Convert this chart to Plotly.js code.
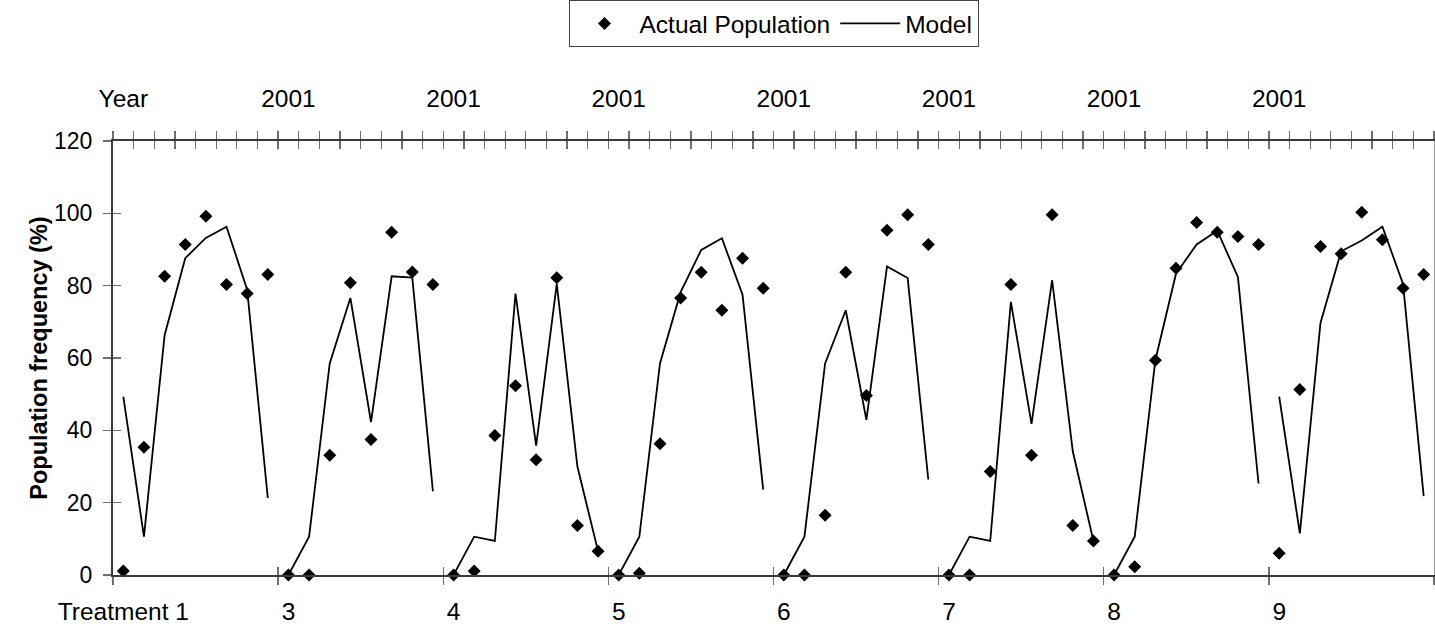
<!DOCTYPE html>
<html>
<head>
<meta charset="utf-8">
<script src="https://cdn.plot.ly/plotly-3.0.1.min.js"></script>
<style>html,body{margin:0;padding:0;background:#fff;}#chart{width:1435px;height:632px;}</style>
</head>
<body>
<div id="chart"></div>
<script>
// ---- data ----
var groupLabels = ["Treatment 1", "3", "4", "5", "6", "7", "8", "9"];
var yearLabels = ["Year", "2001", "2001", "2001", "2001", "2001", "2001", "2001"];
var pointsPerGroup = 8;

var actualPopulation = [
  1.1, 35.3, 82.6, 91.4, 99.2, 80.3, 77.8, 83.1,
  0, 0, 33.1, 80.8, 37.5, 94.8, 83.8, 80.3,
  0, 1.1, 38.6, 52.3, 31.9, 82.2, 13.7, 6.6,
  0, 0.5, 36.3, 76.6, 83.7, 73.2, 87.6, 79.3,
  0, 0, 16.5, 83.7, 49.6, 95.3, 99.6, 91.4,
  0, 0, 28.6, 80.3, 33.1, 99.6, 13.7, 9.4,
  0, 2.3, 59.4, 84.8, 97.5, 94.8, 93.6, 91.4,
  6.0, 51.3, 90.8, 88.8, 100.3, 92.7, 79.3, 83.1
];
var model = [
  49.3, 10.6, 66.3, 87.6, 93.2, 96.3, 78.9, 21.3,
  0, 10.6, 58.5, 76.6, 42.3, 82.6, 82.2, 23.1,
  0, 10.6, 9.4, 77.8, 35.8, 80.5, 30.0, 6.6,
  0, 10.6, 58.5, 78.2, 89.9, 93.1, 77.5, 23.6,
  0, 10.6, 58.5, 73.2, 42.9, 85.3, 82.1, 26.4,
  0, 10.6, 9.4, 75.5, 41.8, 81.5, 34.2, 9.4,
  0, 10.6, 59.4, 83.3, 91.4, 95.2, 82.4, 25.3,
  49.3, 11.5, 69.7, 89.5, 92.5, 96.3, 80.5, 21.8
];

// ---- build traces ----
var n = actualPopulation.length;
var nGroups = groupLabels.length;
var idx = actualPopulation.map(function (_, i) { return i; });

// model: break the line between groups
var mx = [], my = [];
for (var g = 0; g < nGroups; g++) {
  for (var k = 0; k < pointsPerGroup; k++) {
    var i = g * pointsPerGroup + k;
    mx.push(i); my.push(model[i]);
  }
  if (g < nGroups - 1) { mx.push(g * pointsPerGroup + pointsPerGroup - 0.5); my.push(null); }
}

var FONT = "Liberation Sans, Arial, Helvetica, sans-serif";
var FS = 24.5;

function dummy(xa, ya) {
  return {x: [0], y: [0], xaxis: xa, yaxis: ya, mode: "markers", marker: {opacity: 0},
          showlegend: false, hoverinfo: "skip"};
}

var traces = [
  {
    x: idx, y: actualPopulation, type: "scatter", mode: "markers",
    name: "Actual Population",
    marker: {symbol: "diamond", size: 10, color: "#000"},
    cliponaxis: false
  },
  {
    x: mx, y: my, type: "scatter", mode: "lines",
    name: "Model", connectgaps: false,
    line: {color: "#000", width: 1.8},
    cliponaxis: false
  },
  dummy("x2", "y2"), dummy("x3", "y3"), dummy("x4", "y"), dummy("x5", "y"), dummy("x6", "y")
];

var xr = [-0.5, n - 0.5];
var groupBounds = [], catBounds = [], labelPos = [];
for (var b = 0; b <= nGroups; b++) groupBounds.push(b * pointsPerGroup - 0.5);
for (var c = 0; c <= n; c++) catBounds.push(c - 0.5);
for (var l = 0; l < nGroups; l++) labelPos.push(l * pointsPerGroup);

var tickCol = "#6e6e6e", lineCol = "#3a3a3a";
var tickFont = {family: FONT, size: FS, color: "#000"};

function baseX(extra) {
  var o = {overlaying: "x", range: xr, showgrid: false, zeroline: false, showline: false,
           tickmode: "array", tickcolor: tickCol, tickwidth: 1.3, showticklabels: false};
  for (var key in extra) o[key] = extra[key];
  return o;
}

var layout = {
  width: 1435, height: 632,
  margin: {l: 113, r: 1, t: 140, b: 57, pad: 0},
  paper_bgcolor: "#fff", plot_bgcolor: "#fff",
  font: {family: FONT, size: FS, color: "#000"},
  showlegend: true,
  legend: {
    orientation: "h", x: 0.5, xanchor: "center", y: 1.322, yanchor: "top",
    bordercolor: "#444", borderwidth: 1, bgcolor: "#fff", itemwidth: 60,
    font: {family: FONT, size: FS, color: "#000"}
  },
  xaxis: {
    range: xr, showgrid: false, zeroline: false,
    showline: true, linecolor: lineCol, linewidth: 2,
    tickmode: "array", tickvals: groupBounds, ticks: "outside", ticklen: 8,
    tickcolor: tickCol, tickwidth: 1.3, showticklabels: false
  },
  xaxis2: baseX({anchor: "y2", side: "bottom", tickvals: groupBounds, ticks: "inside", ticklen: 8}),
  xaxis3: baseX({anchor: "y3", side: "top", showline: true, linecolor: lineCol, linewidth: 2,
                 tickvals: catBounds, ticks: "outside", ticklen: 8}),
  xaxis4: baseX({anchor: "y", side: "top", tickvals: catBounds, ticks: "inside", ticklen: 8}),
  xaxis5: baseX({anchor: "y", side: "bottom", tickvals: labelPos, ticktext: groupLabels, ticks: "",
                 showticklabels: true, tickfont: tickFont, ticklabelstandoff: 19}),
  xaxis6: baseX({anchor: "y", side: "top", tickvals: labelPos, ticktext: yearLabels, ticks: "",
                 showticklabels: true, tickfont: tickFont, ticklabelstandoff: 28}),
  yaxis: {
    range: [0, 120], showgrid: false, zeroline: false,
    showline: true, linecolor: lineCol, linewidth: 2,
    tickmode: "linear", tick0: 0, dtick: 20, ticks: "outside", ticklen: 8,
    tickcolor: tickCol, tickwidth: 1.3,
    tickfont: {family: FONT, size: 23, color: "#000"},
    ticklabelstandoff: 6,
    title: {text: "<b>Population frequency (%)</b>", font: {family: FONT, size: 23.5, color: "#000"}, standoff: 0}
  },
  yaxis2: {
    overlaying: "y", anchor: "x2", side: "left", range: [0, 120], showgrid: false, zeroline: false,
    showline: false, tickmode: "linear", tick0: 0, dtick: 20, ticks: "inside", ticklen: 8,
    tickcolor: tickCol, tickwidth: 1.3, showticklabels: false
  },
  yaxis3: {
    overlaying: "y", anchor: "x3", side: "right", range: [0, 120], showgrid: false, zeroline: false,
    showline: true, linecolor: "#9a9a9a", linewidth: 1, ticks: "", showticklabels: false
  }
};

Plotly.newPlot("chart", traces, layout, {displayModeBar: false, staticPlot: true});
</script>
</body>
</html>
